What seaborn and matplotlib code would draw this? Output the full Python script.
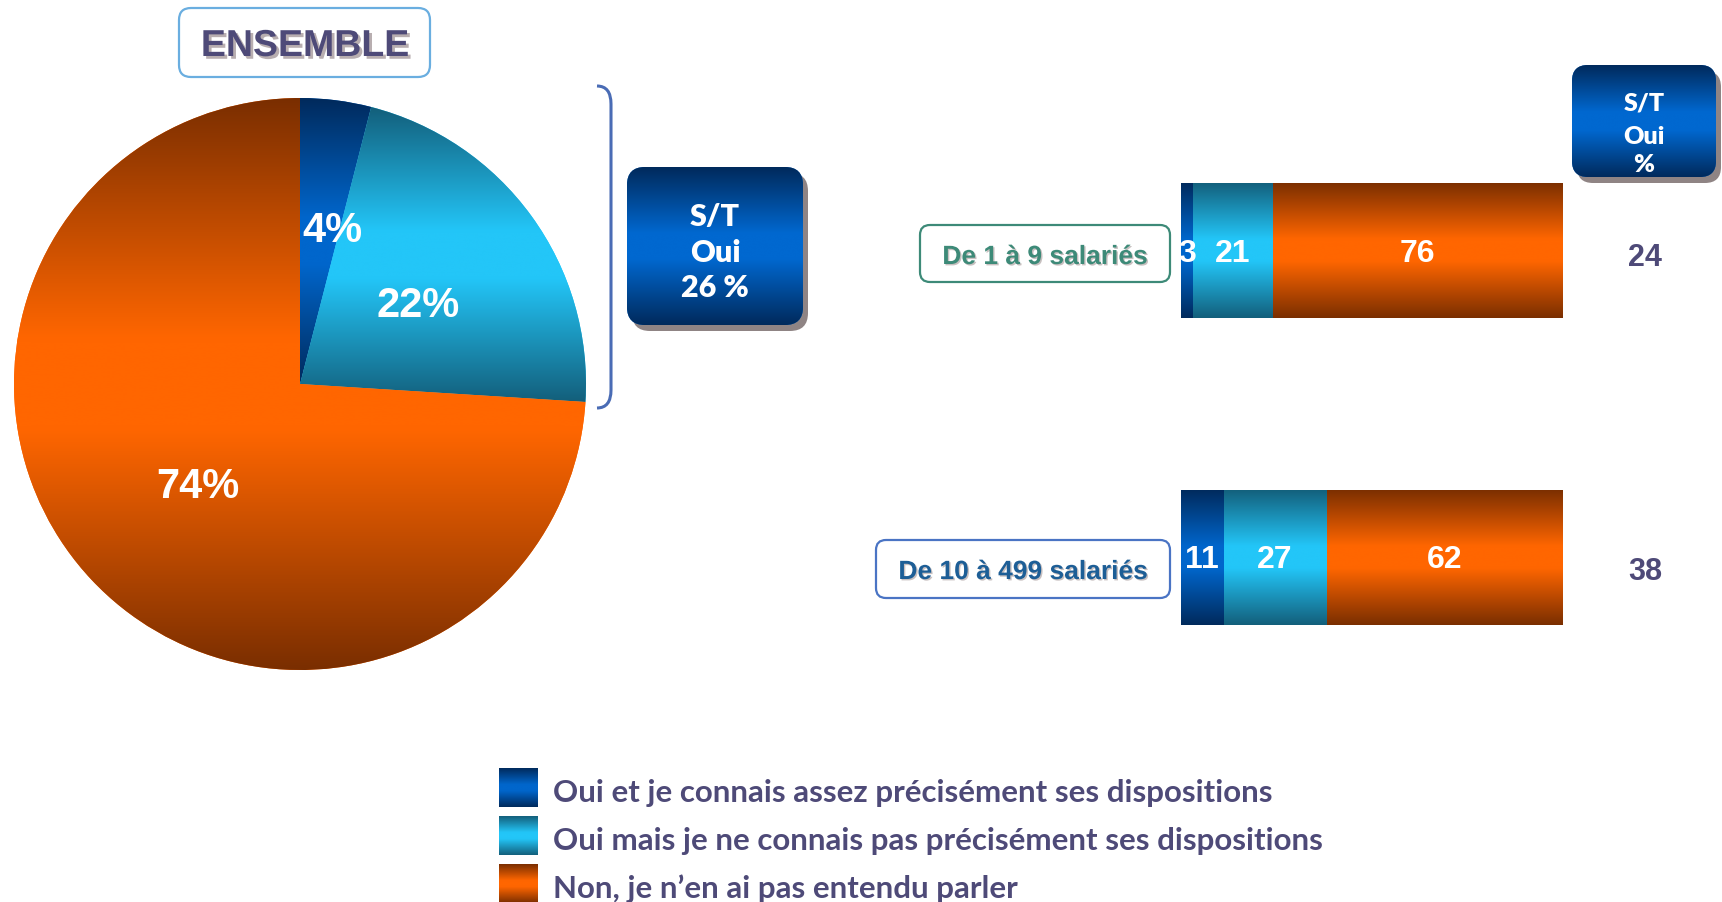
import numpy as np
import pandas as pd
import matplotlib
matplotlib.use("Agg")
import matplotlib.pyplot as plt
import seaborn as sns
import matplotlib.patheffects as pe
from matplotlib.colors import LinearSegmentedColormap
from matplotlib.patches import FancyBboxPatch, Rectangle, PathPatch
from matplotlib.path import Path

sns.set_theme(style="white")
plt.rcParams['font.family'] = ['Liberation Sans', 'DejaVu Sans']

# Data
answers = ["Oui et je connais assez précisément ses dispositions",
           "Oui mais je ne connais pas précisément ses dispositions",
           "Non, je n’en ai pas entendu parler"]
pie_values = [4, 22, 74]
st_oui_total = 26
sizes = ["De 1 à 9 salariés", "De 10 à 499 salariés"]
oui_precis = [3, 11]
oui_vague = [21, 27]
non_entendu = [76, 62]
st_oui = [24, 38]

W, H = 1722, 902
purple = '#4e4a78'
box_font = ['Lato', 'DejaVu Sans']


def ramp(dark, bright):
    return LinearSegmentedColormap.from_list(
        "", [(0, dark), (0.42, bright), (0.58, bright), (1, dark)])


cmaps = [ramp('#002a5c', '#0066cc'), ramp('#135f7b', '#23c6f8'),
         ramp('#7a2e00', '#ff6600')]
grad = np.linspace(0, 1, 256).reshape(-1, 1)


def fill_gradient(ax, patch, cmap):
    bb = patch.get_path().get_extents(patch.get_patch_transform())
    im = ax.imshow(grad, cmap=cmap, extent=[bb.x0, bb.x1, bb.y0, bb.y1],
                   aspect='auto', interpolation='bicubic',
                   zorder=patch.get_zorder() + 0.1)
    im.set_clip_path(patch)


fig = plt.figure(figsize=(W / 100, H / 100), dpi=100)

# Decoration layer in pixel coordinates
deco = fig.add_axes([0, 0, 1, 1])
deco.set_xlim(0, W)
deco.set_ylim(H, 0)
deco.axis('off')


def blue_box(x, y, w, h, r):
    shadow = FancyBboxPatch((x + 5, y + 6), w, h, boxstyle=f"round,pad=0,rounding_size={r}",
                            fc='#8f8484', ec='none', zorder=1)
    deco.add_patch(shadow)
    box = FancyBboxPatch((x, y), w, h, boxstyle=f"round,pad=0,rounding_size={r}",
                         fc='#0060c0', ec='none', zorder=2)
    deco.add_patch(box)
    fill_gradient(deco, box, ramp('#002a5c', '#0068d0'))


# ENSEMBLE title box
deco.add_patch(FancyBboxPatch((179, 8), 251, 69, boxstyle="round,pad=0,rounding_size=12",
                              fc='white', ec='#6aaee0', lw=1.6))
deco.text(305, 46, "ENSEMBLE", ha='center', va='center', fontsize=27,
          fontweight='bold', color=purple,
          path_effects=[pe.SimplePatchShadow(offset=(2, -2), shadow_rgbFace='#b8aeb0', alpha=1),
                        pe.Normal()])

# Bracket
brk = Path([(597, 86), (611, 86), (611, 104), (611, 390), (611, 408), (597, 408)],
           [Path.MOVETO, Path.CURVE3, Path.CURVE3, Path.LINETO, Path.CURVE3, Path.CURVE3])
deco.add_patch(PathPatch(brk, fc='none', ec='#4a6cb5', lw=2.2))

# S/T Oui boxes
blue_box(627, 167, 176, 158, 18)
for txt, yy in zip(["S/T", "Oui", f"{st_oui_total} %"], [226, 262, 297]):
    deco.text(715, yy, txt, ha='center', va='baseline', fontsize=22, fontweight='heavy',
              color='white', family=box_font, zorder=5)

blue_box(1572, 65, 144, 112, 16)
for txt, yy in zip(["S/T", "Oui", "%"], [111, 144, 172]):
    deco.text(1644, yy, txt, ha='center', va='baseline', fontsize=18, fontweight='heavy',
              color='white', family=box_font, zorder=5)

# Category label boxes
label_boxes = [(920, 225, 250, 57, '#3d8a78', '#3d8a78', 1045, 257),
               (876, 540, 294, 58, '#4a74c4', '#1d5e96', 1023, 572)]
for name, (bx, by, bw, bh, ec, tc, tx, ty) in zip(sizes, label_boxes):
    deco.add_patch(FancyBboxPatch((bx, by), bw, bh, boxstyle="round,pad=0,rounding_size=10",
                                  fc='white', ec=ec, lw=1.6))
    deco.text(tx, ty, name, ha='center', va='center', fontsize=19, fontweight='bold',
              color=tc,
              path_effects=[pe.SimplePatchShadow(offset=(1, -1), shadow_rgbFace='#c8c0c0', alpha=1),
                            pe.Normal()])

# Legend
for i, (lab, cm) in enumerate(zip(answers, cmaps)):
    y0 = 768 + i * 48
    key = Rectangle((499, y0), 39, 39, fc=cm(0.5), ec='none', zorder=2)
    deco.add_patch(key)
    fill_gradient(deco, key, cm)
    deco.text(553, y0 + 25, lab, ha='left', va='center', fontsize=22.5, fontweight='bold',
              color=purple, family=box_font)

deco.set_xlim(0, W)
deco.set_ylim(H, 0)

# Pie
ax_pie = fig.add_axes([14 / W, 1 - 670 / H, 572 / W, 572 / H])
wedges, _ = ax_pie.pie(pie_values, colors=[c(0.5) for c in cmaps], startangle=90,
                       counterclock=False, wedgeprops=dict(linewidth=0))
for w, cm in zip(wedges, cmaps):
    fill_gradient(ax_pie, w, cm)
cum = np.cumsum(pie_values)
mid = np.deg2rad(90 - 3.6 * (cum - np.array(pie_values) / 2))
label_nudge = [(12, -12), (2, -6), (2, -5)]
for v, a, d, nd in zip(pie_values, mid, [0.58, 0.5, 0.5], label_nudge):
    ax_pie.annotate(f"{v}%", xy=(d * np.cos(a), d * np.sin(a)), xytext=nd,
                    textcoords='offset pixels', ha='center', va='center',
                    fontsize=30, fontweight='bold', color='white', zorder=10)
ax_pie.set_xlim(-1, 1)
ax_pie.set_ylim(-1, 1)
ax_pie.axis('off')

# Stacked bars
df = pd.DataFrame({"taille": sizes, "precis": oui_precis, "vague": oui_vague,
                   "non": non_entendu})
df["cum_vague"] = df["precis"] + df["vague"]
df["cum_non"] = df["cum_vague"] + df["non"]

ax_bar = fig.add_axes([1181 / W, 1 - 711 / H, 382 / W, 614 / H])
for col, cm, z in [("cum_non", cmaps[2], 1), ("cum_vague", cmaps[1], 2), ("precis", cmaps[0], 3)]:
    n = len(ax_bar.patches)
    sns.barplot(data=df, x=col, y="taille", orient="h", color=cm(0.5), saturation=1,
                width=0.44, linewidth=0, errorbar=None, ax=ax_bar)
    for p in ax_bar.patches[n:]:
        p.set_zorder(z)
        fill_gradient(ax_bar, p, cm)

row_shift = [7, 15]
for i, row in df.iterrows():
    starts = [0, row["precis"], row["cum_vague"]]
    for s, v in zip(starts, [row["precis"], row["vague"], row["non"]]):
        ax_bar.annotate(str(v), xy=(s + v / 2, i), xytext=(0, -3), textcoords='offset pixels',
                        ha='center', va='center', fontsize=23, fontweight='bold',
                        color='white', zorder=10)
    ax_bar.annotate(str(st_oui[i]), xy=(121.5, i), xytext=(0, -row_shift[i]),
                    textcoords='offset pixels', ha='center', va='center', fontsize=22,
                    fontweight='bold', color=purple, annotation_clip=False)

ax_bar.set_xlim(0, 100)
ax_bar.set_ylim(1.5, -0.5)
ax_bar.axis('off')

fig.savefig("out.png", dpi=100)
